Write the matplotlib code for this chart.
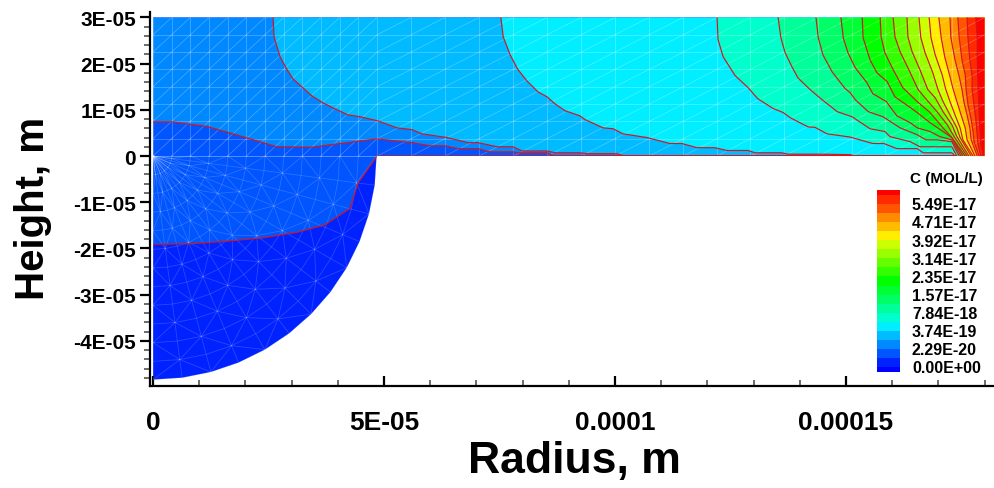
import numpy as np
import matplotlib
matplotlib.use('Agg')
import matplotlib.pyplot as plt
from matplotlib.patches import Polygon
from matplotlib.ticker import MultipleLocator

plt.rcParams['font.family'] = ['Liberation Sans', 'DejaVu Sans']
plt.rcParams['font.weight'] = 'bold'

outline = [(48.4, 0.0), (47.99, -6.32), (46.75, -12.53), (44.71, -18.52), (41.92, -24.2), (38.4, -29.46),
           (34.22, -34.22), (29.46, -38.4), (24.2, -41.92), (18.52, -44.71), (12.53, -46.75), (6.32, -47.99), (0, -48.4)]

c0 = [(0, -19.1), (8.0, -19.0), (15.2, -18.5), (23.8, -17.7), (31.2, -16.5), (37.2, -14.9), (42.6, -11.4),
      (44.4, -5.8), (48.5, 0.0), (173.6, 0.0)]
c1 = [(0, 7.4), (4.1, 7.4), (11.7, 6.4), (17.3, 4.8), (26.8, 2.0), (34.4, 1.9), (40.5, 2.7), (48.5, 3.7),
      (56.1, 2.9), (60.0, 2.2), (63.2, 2.2), (66.0, 1.6), (70.3, 1.6), (72.9, 0.9), (77.9, 0.9), (79.4, 0.7),
      (85.3, 0.7), (86.6, 0.1), (173.6, 0.0)]
c2 = [(26.0, 30.0), (26.2, 25.8), (27.5, 21.5), (29.0, 18.7), (30.3, 16.7), (34.4, 13.0), (36.8, 11.5),
      (39.4, 10.2), (42.2, 8.9), (44.8, 8.5), (48.7, 7.6), (52.8, 6.1), (56.1, 5.7), (58.2, 4.8), (63.6, 4.0),
      (68.2, 2.9), (70.3, 2.9), (74.5, 2.0), (77.9, 2.0), (79.9, 1.1), (85.3, 1.1), (87.0, 0.7), (92.4, 0.7),
      (93.9, 0.5), (100.4, 0.5), (101.7, 0.1), (173.6, 0.0)]
c3 = [(75.3, 30.0), (75.8, 25.8), (77.3, 21.9), (79.0, 18.7), (80.9, 16.3), (83.3, 13.9), (85.3, 12.8),
      (87.0, 11.3), (89.2, 9.8), (92.4, 8.7), (93.5, 7.9), (97.4, 6.1), (99.6, 5.9), (101.7, 4.8), (106.9, 4.0),
      (111.9, 2.7), (114.5, 2.7), (117.7, 1.8), (121.6, 1.8), (124.2, 1.2), (128.8, 1.2), (130.3, 0.7),
      (136.1, 0.7), (137.4, 0.4), (143.7, 0.4), (150.9, 0.3), (151.5, 0.1), (173.6, 0.0)]
c4 = [(122.1, 30.0), (122.3, 25.2), (123.4, 21.5), (126.0, 17.4), (128.8, 14.8), (130.9, 12.4), (134.2, 10.3),
      (136.4, 9.4), (137.9, 8.3), (141.8, 6.3), (143.3, 6.2), (145.9, 4.8), (150.9, 4.1), (155.8, 2.7),
      (158.2, 2.7), (161.0, 1.6), (165.4, 1.6), (166.7, 0.7), (172.9, 0.7), (173.6, 0.0)]
c5 = [(135.3, 30.0), (135.9, 25.6), (136.8, 22.4), (138.3, 19.3), (139.6, 16.9), (142.2, 14.4), (144.8, 12.2),
      (148.1, 9.6), (151.3, 8.5), (155.2, 5.9), (158.4, 5.3), (159.5, 4.2), (163.9, 3.1), (166.0, 2.0),
      (172.9, 2.0), (174.0, 0.0)]
c6 = [(143.5, 30.0), (144.0, 25.6), (145.0, 21.9), (147.0, 18.2), (149.8, 14.6), (150.9, 13.7), (152.0, 12.2),
      (154.8, 9.6), (158.0, 8.5), (161.7, 6.1), (165.4, 4.6), (167.3, 3.5), (169.7, 3.5), (172.9, 3.1), (174.5, 0.0)]
c7 = [(148.9, 30.0), (149.4, 25.6), (150.4, 22.4), (152.0, 19.1), (154.5, 15.9), (155.8, 13.5), (158.7, 11.8),
      (161.0, 8.7), (163.9, 7.2), (165.4, 6.1), (168.2, 5.3), (170.3, 4.2), (172.9, 3.5), (174.9, 0.0)]
c8 = [(153.5, 30.0), (153.7, 25.6), (155.2, 20.8), (156.7, 18.0), (158.9, 16.1), (160.6, 12.8), (163.9, 10.5),
      (165.4, 9.4), (168.2, 7.2), (171.0, 5.3), (172.9, 4.0), (175.3, 0.0)]
c9 = [(157.4, 30.0), (157.6, 25.8), (158.4, 22.4), (160.0, 19.1), (162.3, 14.8), (165.4, 11.8), (168.2, 9.4),
      (171.0, 6.1), (172.9, 4.0), (175.8, 0.0)]
c10 = [(160.2, 30.0), (160.6, 25.8), (161.7, 22.6), (163.4, 19.1), (165.6, 14.4), (167.1, 12.6), (169.7, 9.6),
       (171.9, 6.8), (173.4, 4.2), (176.2, 0.0)]
c11 = [(163.2, 30.0), (163.4, 25.8), (164.3, 22.6), (166.0, 18.7), (167.7, 14.4), (169.3, 12.6), (171.0, 9.6),
       (172.9, 6.8), (174.0, 4.2), (176.6, 0.0)]
c12 = [(165.8, 30.0), (166.2, 25.6), (167.1, 22.4), (168.8, 18.0), (169.9, 14.4), (171.0, 11.8), (172.5, 8.9),
       (174.0, 6.1), (174.7, 4.0), (177.1, 0.0)]
c13 = [(168.0, 30.0), (168.4, 25.6), (169.3, 21.9), (170.8, 17.6), (171.6, 14.4), (172.5, 11.8), (173.6, 8.9),
       (174.7, 6.1), (175.3, 3.5), (177.5, 0.0)]
c14 = [(170.1, 30.0), (170.6, 25.6), (171.4, 21.3), (172.5, 17.2), (173.2, 14.4), (174.0, 11.8), (174.9, 8.9),
       (175.8, 6.1), (176.2, 3.5), (177.9, 0.0)]
c15 = [(172.5, 30.0), (172.7, 25.6), (173.6, 20.8), (174.5, 17.2), (175.1, 14.4), (175.5, 11.8), (176.2, 8.9),
       (176.8, 6.1), (177.1, 3.5), (178.4, 0.0)]
c16 = [(174.2, 30.0), (174.5, 25.6), (175.1, 20.8), (175.8, 17.6), (176.0, 14.4), (176.4, 11.1), (177.1, 7.9),
       (177.5, 5.3), (177.7, 3.1), (178.8, 0.0)]
c17 = [(176.2, 30.0), (176.4, 25.6), (176.8, 20.8), (177.3, 17.2), (177.3, 14.4), (177.7, 11.1), (178.1, 7.9),
       (178.4, 4.6), (178.6, 2.4), (179.2, 0.0)]
c18 = [(178.1, 30.0), (178.4, 25.6), (178.4, 20.8), (178.6, 14.4), (178.8, 10.0), (179.0, 5.7), (179.2, 2.4),
       (179.7, 0.0)]
contours = [c0, c1, c2, c3, c4, c5, c6, c7, c8, c9, c10, c11, c12, c13, c14, c15, c16, c17, c18]

# bottom band first
band_colors = ['#0000ff', '#0022ff', '#0055ff', '#0088ff', '#00bbff', '#00eeff', '#00ffcc', '#00ff99', '#00ff66',
               '#00ff33', '#00ff00', '#33ff00', '#66ff00', '#99ff00', '#ccff00', '#ffee00', '#ffbb00', '#ff8c00',
               '#ff5500', '#ff2a00', '#ff0000']
legend_labels = ['0.00E+00', '2.29E-20', '3.74E-19', '7.84E-18', '1.57E-17', '2.35E-17', '3.14E-17', '3.92E-17',
                 '4.71E-17', '5.49E-17']

mesh_x = [0, 4.04, 8.08, 12.12, 16.16, 20.2, 24.24, 28.28, 32.32, 36.36, 40.4, 44.44, 48.5, 55.9, 63.2, 70.6, 78.0,
          85.3, 92.7, 100.0, 107.4, 114.8, 122.1, 129.3, 136.6, 144.0, 151.3, 158.5, 165.8, 173.0, 180.0]
mesh_y = [0, 3.75, 7.5, 11.25, 15, 18.75, 22.5, 26.25, 30]
mesh_r = [4.04, 8.08, 12.12, 16.16, 20.2, 24.24, 28.28, 32.32, 36.36, 40.4, 44.44, 48.4]
mesh_deg = [0, 7.5, 15, 22.5, 30, 37.5, 45, 52.5, 60, 67.5, 75, 82.5, 90]

UM = 1e-6
fig = plt.figure(figsize=(9.95, 4.89), dpi=100)
ax = fig.add_axes([150 / 995, 1 - 387 / 489, 845 / 995, 374 / 489])
ax.set_xlim(-0.65 * UM, 182.25 * UM)
ax.set_ylim(-49.78 * UM, 31.17 * UM)

domain = np.array([(0, 30), (180, 30), (180, 0)] + outline) * UM
base = Polygon(domain, closed=True, fc=band_colors[1], ec='none', zorder=1)
ax.add_patch(base)


def clipped(artist):
    artist.set_clip_path(base)
    return artist


# each band covers everything to the right of its contour, later ones paint over
for i, c in enumerate(contours):
    pts = np.array(c + [(180, 0), (180, 30), (c[0][0], 30)]) * UM
    clipped(ax.add_patch(Polygon(pts, closed=True, fc=band_colors[i + 2], ec='none', zorder=2)))

# grid mesh, top block
mesh_kw = dict(color='white', lw=0.8, alpha=0.22, zorder=3)
for x in mesh_x[:-1]:
    clipped(ax.plot([x * UM, x * UM], [0, 30 * UM], **mesh_kw)[0])
for y in mesh_y:
    clipped(ax.plot([0, 180 * UM], [y * UM, y * UM], **mesh_kw)[0])
for i in range(len(mesh_x) - 1):
    for j in range(len(mesh_y) - 1):
        clipped(ax.plot([mesh_x[i] * UM, mesh_x[i + 1] * UM], [mesh_y[j] * UM, mesh_y[j + 1] * UM],
                        color='white', lw=0.5, alpha=0.3, zorder=3)[0])

# polar mesh, sphere
th = np.radians(mesh_deg)
radii = np.array([0] + mesh_r)
px = np.outer(radii, np.sin(th)) * UM
py = -np.outer(radii, np.cos(th)) * UM
polar_kw = dict(color='white', lw=0.6, alpha=0.17, zorder=3)
for j in range(len(th)):
    clipped(ax.plot(px[:, j], py[:, j], **polar_kw)[0])
for i in range(1, len(radii)):
    clipped(ax.plot(px[i], py[i], **polar_kw)[0])
    for j in range(len(th) - 1):
        k = j + 1 if (i + j) % 2 else j
        m = j if (i + j) % 2 else j + 1
        clipped(ax.plot([px[i, k], px[i - 1, m]], [py[i, k], py[i - 1, m]], **polar_kw)[0])

for c in contours:
    pts = np.array(c) * UM
    clipped(ax.plot(pts[:, 0], pts[:, 1], color='#d8141e', lw=0.85, zorder=4)[0])

ax.spines['top'].set_visible(False)
ax.spines['right'].set_visible(False)
ax.spines['left'].set_linewidth(1.6)
ax.spines['bottom'].set_linewidth(1.6)

ax.set_xticks([0, 5e-5, 1e-4, 1.5e-4])
ax.set_xticklabels(['0', '5E-05', '0.0001', '0.00015'], fontsize=19)
ax.set_yticks([3e-5, 2e-5, 1e-5, 0, -1e-5, -2e-5, -3e-5, -4e-5])
ax.set_yticklabels(['3E-05', '2E-05', '1E-05', '0', '-1E-05', '-2E-05', '-3E-05', '-4E-05'], fontsize=15)
ax.xaxis.set_minor_locator(MultipleLocator(1e-5))
ax.yaxis.set_minor_locator(MultipleLocator(2e-6))
ax.tick_params(axis='x', which='major', direction='in', length=7, width=1.6, pad=17)
ax.tick_params(axis='x', which='minor', direction='in', length=4, width=1.1, color='#444444')
ax.tick_params(axis='y', which='major', direction='out', length=7, width=1.6, pad=3)
ax.tick_params(axis='y', which='minor', direction='out', length=4, width=1.1, color='#444444')

fig.text(574 / 995, 1 - 462 / 489, 'Radius, m', fontsize=32, ha='center', va='center')
fig.text(33 / 995, 1 - 208 / 489, 'Height, m', fontsize=29, rotation=90, ha='center', va='center')

# legend
lax = fig.add_axes([877 / 995, 1 - 373 / 489, 23 / 995, 182 / 489])
lax.axis('off')
lax.set_xlim(0, 1)
lax.set_ylim(0, 20)
edges = [0] + [i + 0.5 for i in range(20)] + [20]
for i, col in enumerate(band_colors):
    lax.barh(edges[i], 1, height=edges[i + 1] - edges[i], left=0, align='edge', color=col, lw=0)

fig.text(946 / 995, 1 - 179 / 489, 'C (MOL/L)', fontsize=11, ha='center', va='center')
for i, lab in enumerate(legend_labels):
    fig.text(912 / 995, 1 - (369 - i * 18.13) / 489, lab, fontsize=11.5, ha='left', va='center')

fig.savefig('out.png', dpi=100)
